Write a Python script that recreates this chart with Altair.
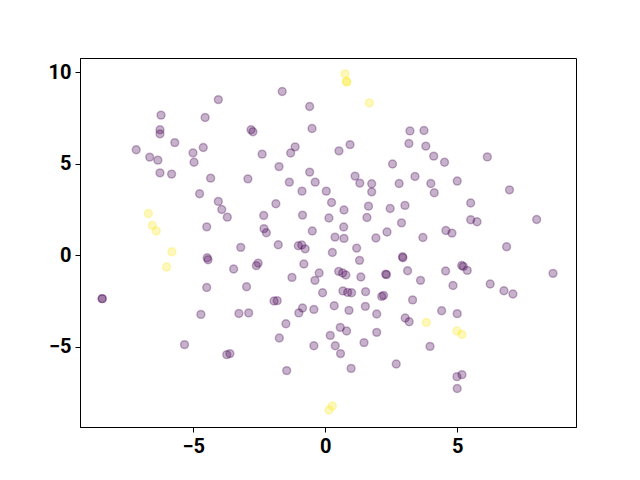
import altair as alt
import pandas as pd

# purple points (class 0)
x0 = [-4.05, -6.22, -4.55, -6.26, -6.26, -2.81, -2.74, -5.70, -7.16, -4.62,
      -5.01, -6.65, -6.34, -4.97, -6.26, -5.82, -4.34, -2.93, -4.76, -4.05,
      -3.92, -3.71, -4.49, -3.20, -1.63, -0.59, -0.50, 3.21, 3.74, 3.17,
      3.81, 0.94, 0.52, -1.14, -1.31, -2.39, -1.75, 2.55, -0.59, 1.13,
      3.40, -1.36, -0.38, 1.31, 1.76, 1.76, 2.80, -0.88, 0.04, 0.24,
      -1.87, 1.64, 2.46, 3.02, 0.71, -2.33, -0.86, 0.14, 1.58, 2.89,
      -2.32, -2.23, -0.49, 0.70, 2.34, 0.37, 0.71, 1.92, -1.78, -1.02,
      -0.89, -0.76, 1.19, 4.11, 4.52, 6.14, 4.00, 5.00, 4.13, 6.98,
      5.51, 5.51, 5.75, 8.01, 4.57, 4.80, 3.70, 6.87,
      -4.47, -4.44, -3.47, -4.49, -2.98, -8.45, -8.45, -4.71, -3.27, -2.90,
      -5.33, -3.73, -3.61,
      0.27, 2.93, 2.94, -2.54, -2.61, -0.81, 1.30, 3.12, -0.23, 0.51,
      0.66, 0.78, 2.29, 2.32, -1.26, -0.39, 1.35, -0.10, 0.67, 0.85,
      1.00, 1.53, 2.14, 2.21, 3.31, -1.94, -1.82, 0.34, 1.52, -0.86,
      -1.00, -0.43, 0.90, 1.95, 3.03, 3.18, -1.49, 0.57, 0.81, 1.95,
      0.19, -1.74, 1.47, -0.43, 0.38, 0.58, -1.46, 0.98, 2.69,
      4.56, 5.17, 5.23, 5.38, 8.63, 3.61, 4.84, 6.25, 6.77, 7.11,
      4.41, 5.00, 3.97, 4.99, 5.18, 5.00]
y0 = [8.50, 7.65, 7.52, 6.85, 6.63, 6.85, 6.74, 6.15, 5.76, 5.88,
      5.59, 5.36, 5.19, 5.08, 4.50, 4.43, 4.21, 4.17, 3.36, 2.94,
      2.50, 2.08, 1.55, 0.43, 8.94, 8.12, 6.92, 6.79, 6.81, 6.10,
      5.96, 6.04, 5.70, 5.92, 5.58, 5.52, 4.84, 4.98, 4.54, 4.32,
      4.30, 3.99, 3.99, 3.94, 3.90, 3.46, 3.92, 3.50, 3.50, 2.88,
      2.81, 2.68, 2.55, 2.72, 2.47, 2.17, 2.19, 2.03, 2.06, 1.77,
      1.45, 1.23, 1.32, 1.54, 1.27, 0.99, 0.92, 0.94, 0.57, 0.52,
      0.56, 0.35, 0.39, 5.41, 5.08, 5.37, 3.92, 4.05, 3.41, 3.57,
      2.85, 1.94, 1.83, 1.95, 1.35, 1.21, 0.97, 0.46,
      -0.14, -0.25, -0.75, -1.76, -1.72, -2.37, -2.37, -3.23, -3.18, -3.15,
      -4.88, -5.43, -5.37,
      0.15, -0.08, -0.14, -0.43, -0.57, -0.48, -0.28, -0.85, -0.97, -0.88,
      -0.97, -1.08, -1.03, -1.06, -1.21, -1.37, -1.19, -2.05, -1.95, -2.03,
      -2.05, -1.99, -2.25, -2.19, -2.44, -2.50, -2.48, -2.76, -2.79, -2.88,
      -3.15, -2.96, -3.01, -3.21, -3.43, -3.63, -3.74, -3.94, -4.14, -4.21,
      -4.38, -4.52, -4.77, -4.94, -4.94, -5.37, -6.30, -6.18, -5.94,
      -0.86, -0.56, -0.61, -0.83, -0.99, -1.37, -1.65, -1.57, -1.94, -2.12,
      -3.03, -3.19, -4.98, -6.63, -6.52, -7.28]

# yellow points (class 1)
x1 = [0.75, 0.80, 0.82, 1.67, -6.70, -6.55, -6.40, -5.81, -6.01, 0.27, 0.14, 3.83, 4.99, 5.18]
y1 = [9.90, 9.50, 9.45, 8.32, 2.28, 1.63, 1.32, 0.19, -0.64, -8.23, -8.45, -3.67, -4.14, -4.32]

x_ticks = [-5, 0, 5]
y_ticks = [-5, 0, 5, 10]
x_domain = [-9.29, 9.50]
y_domain = [-9.38, 10.77]

df = pd.DataFrame({
    "x": x0 + x1,
    "y": y0 + y1,
    "label": [0] * len(x0) + [1] * len(x1),
})

color_scale = alt.Scale(domain=[0, 1], range=["#440154", "#fde725"])

axis_common = dict(
    grid=False, title=None, domainColor="black", domainWidth=1,
    tickColor="black", tickSize=5, tickWidth=1, labelPadding=4,
    labelFont="Roboto", labelFontSize=20, labelFontWeight="bold",
    labelColor="black",
)

chart = alt.Chart(df).mark_circle(
    size=62, fillOpacity=0.3, strokeOpacity=0.3, strokeWidth=1.5
).encode(
    x=alt.X("x:Q", scale=alt.Scale(domain=x_domain, nice=False, zero=False),
            axis=alt.Axis(values=x_ticks, **axis_common)),
    y=alt.Y("y:Q", scale=alt.Scale(domain=y_domain, nice=False, zero=False),
            axis=alt.Axis(values=y_ticks, **axis_common)),
    fill=alt.Fill("label:Q", scale=color_scale, legend=None),
    stroke=alt.Stroke("label:Q", scale=color_scale, legend=None),
).properties(
    width=496, height=369,
    autosize=alt.AutoSizeParams(type="none"),
    padding={"left": 72, "top": 50, "right": 40, "bottom": 40},
    background="white",
).configure_view(stroke="black", strokeWidth=1)

chart.save("out.html", embed_options={"renderer": "svg", "actions": False})
